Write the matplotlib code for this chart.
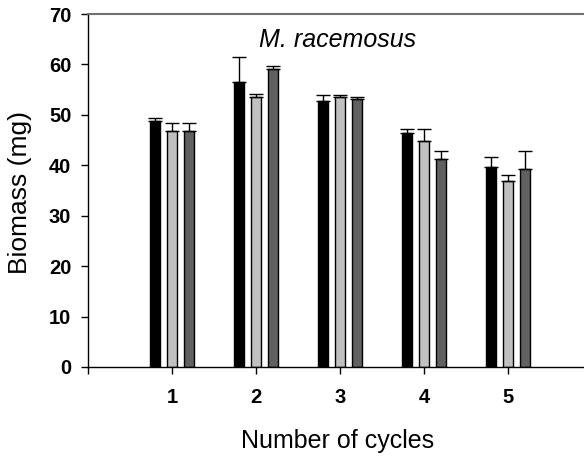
import numpy as np
import matplotlib
matplotlib.use("Agg")
import matplotlib.pyplot as plt

plt.rcParams['font.family'] = ['Liberation Sans', 'DejaVu Sans']

cycles = [1, 2, 3, 4, 5]
black_vals = [48.7, 56.6, 52.8, 46.4, 39.7]
black_err = [0.7, 4.9, 1.1, 0.8, 1.9]
light_vals = [46.8, 53.5, 53.5, 44.9, 36.9]
light_err = [1.6, 0.7, 0.5, 2.3, 1.2]
dark_vals = [46.8, 59.1, 53.2, 41.2, 39.3]
dark_err = [1.6, 0.6, 0.3, 1.7, 3.5]

fig = plt.figure(figsize=(5.84, 4.58), dpi=100)
ax = fig.add_axes([88/584, (458-367)/458, (584-88)/584, (367-14)/458])

x = np.array(cycles)
w = 0.12
step = 0.2
series = [(black_vals, black_err, '#000000'),
          (light_vals, light_err, '#c0c0c0'),
          (dark_vals, dark_err, '#606060')]
for i, (v, e, c) in enumerate(series):
    pos = x + (i - 1) * step
    ax.bar(pos, v, width=w, color=c, edgecolor='black', linewidth=1.0, zorder=2)
    ax.errorbar(pos, v, yerr=[np.zeros(len(e)), e], fmt='none', ecolor='black',
                elinewidth=1.0, capsize=5, capthick=1.0, zorder=3)

ax.set_xlim(0, 496/84)
ax.set_ylim(0, 70)
ax.set_yticks(range(0, 71, 10))
ax.set_xticks([0, 1, 2, 3, 4, 5])
ax.set_xticklabels(['', '1', '2', '3', '4', '5'])
ax.tick_params(axis='both', direction='out', length=5, width=1, labelsize=14.5)
ax.tick_params(axis='x', pad=10)
ax.tick_params(axis='y', pad=7)
for lab in ax.get_xticklabels() + ax.get_yticklabels():
    lab.set_fontweight('bold')

ax.spines['right'].set_visible(False)
ax.spines['top'].set_color('#707070')
ax.spines['top'].set_linewidth(1.5)
ax.spines['left'].set_linewidth(1.0)
ax.spines['bottom'].set_linewidth(1.0)

ax.set_ylabel('Biomass (mg)', fontsize=19, va='center')
ax.yaxis.set_label_coords(-0.137, 0.494)
ax.set_xlabel('Number of cycles', fontsize=18, va='center')
ax.xaxis.set_label_coords(0.504, -0.21)
ax.text(2.97, 63.5, 'M. racemosus', fontsize=18, style='italic',
        ha='center', va='baseline')

fig.savefig('out.png', dpi=100)
